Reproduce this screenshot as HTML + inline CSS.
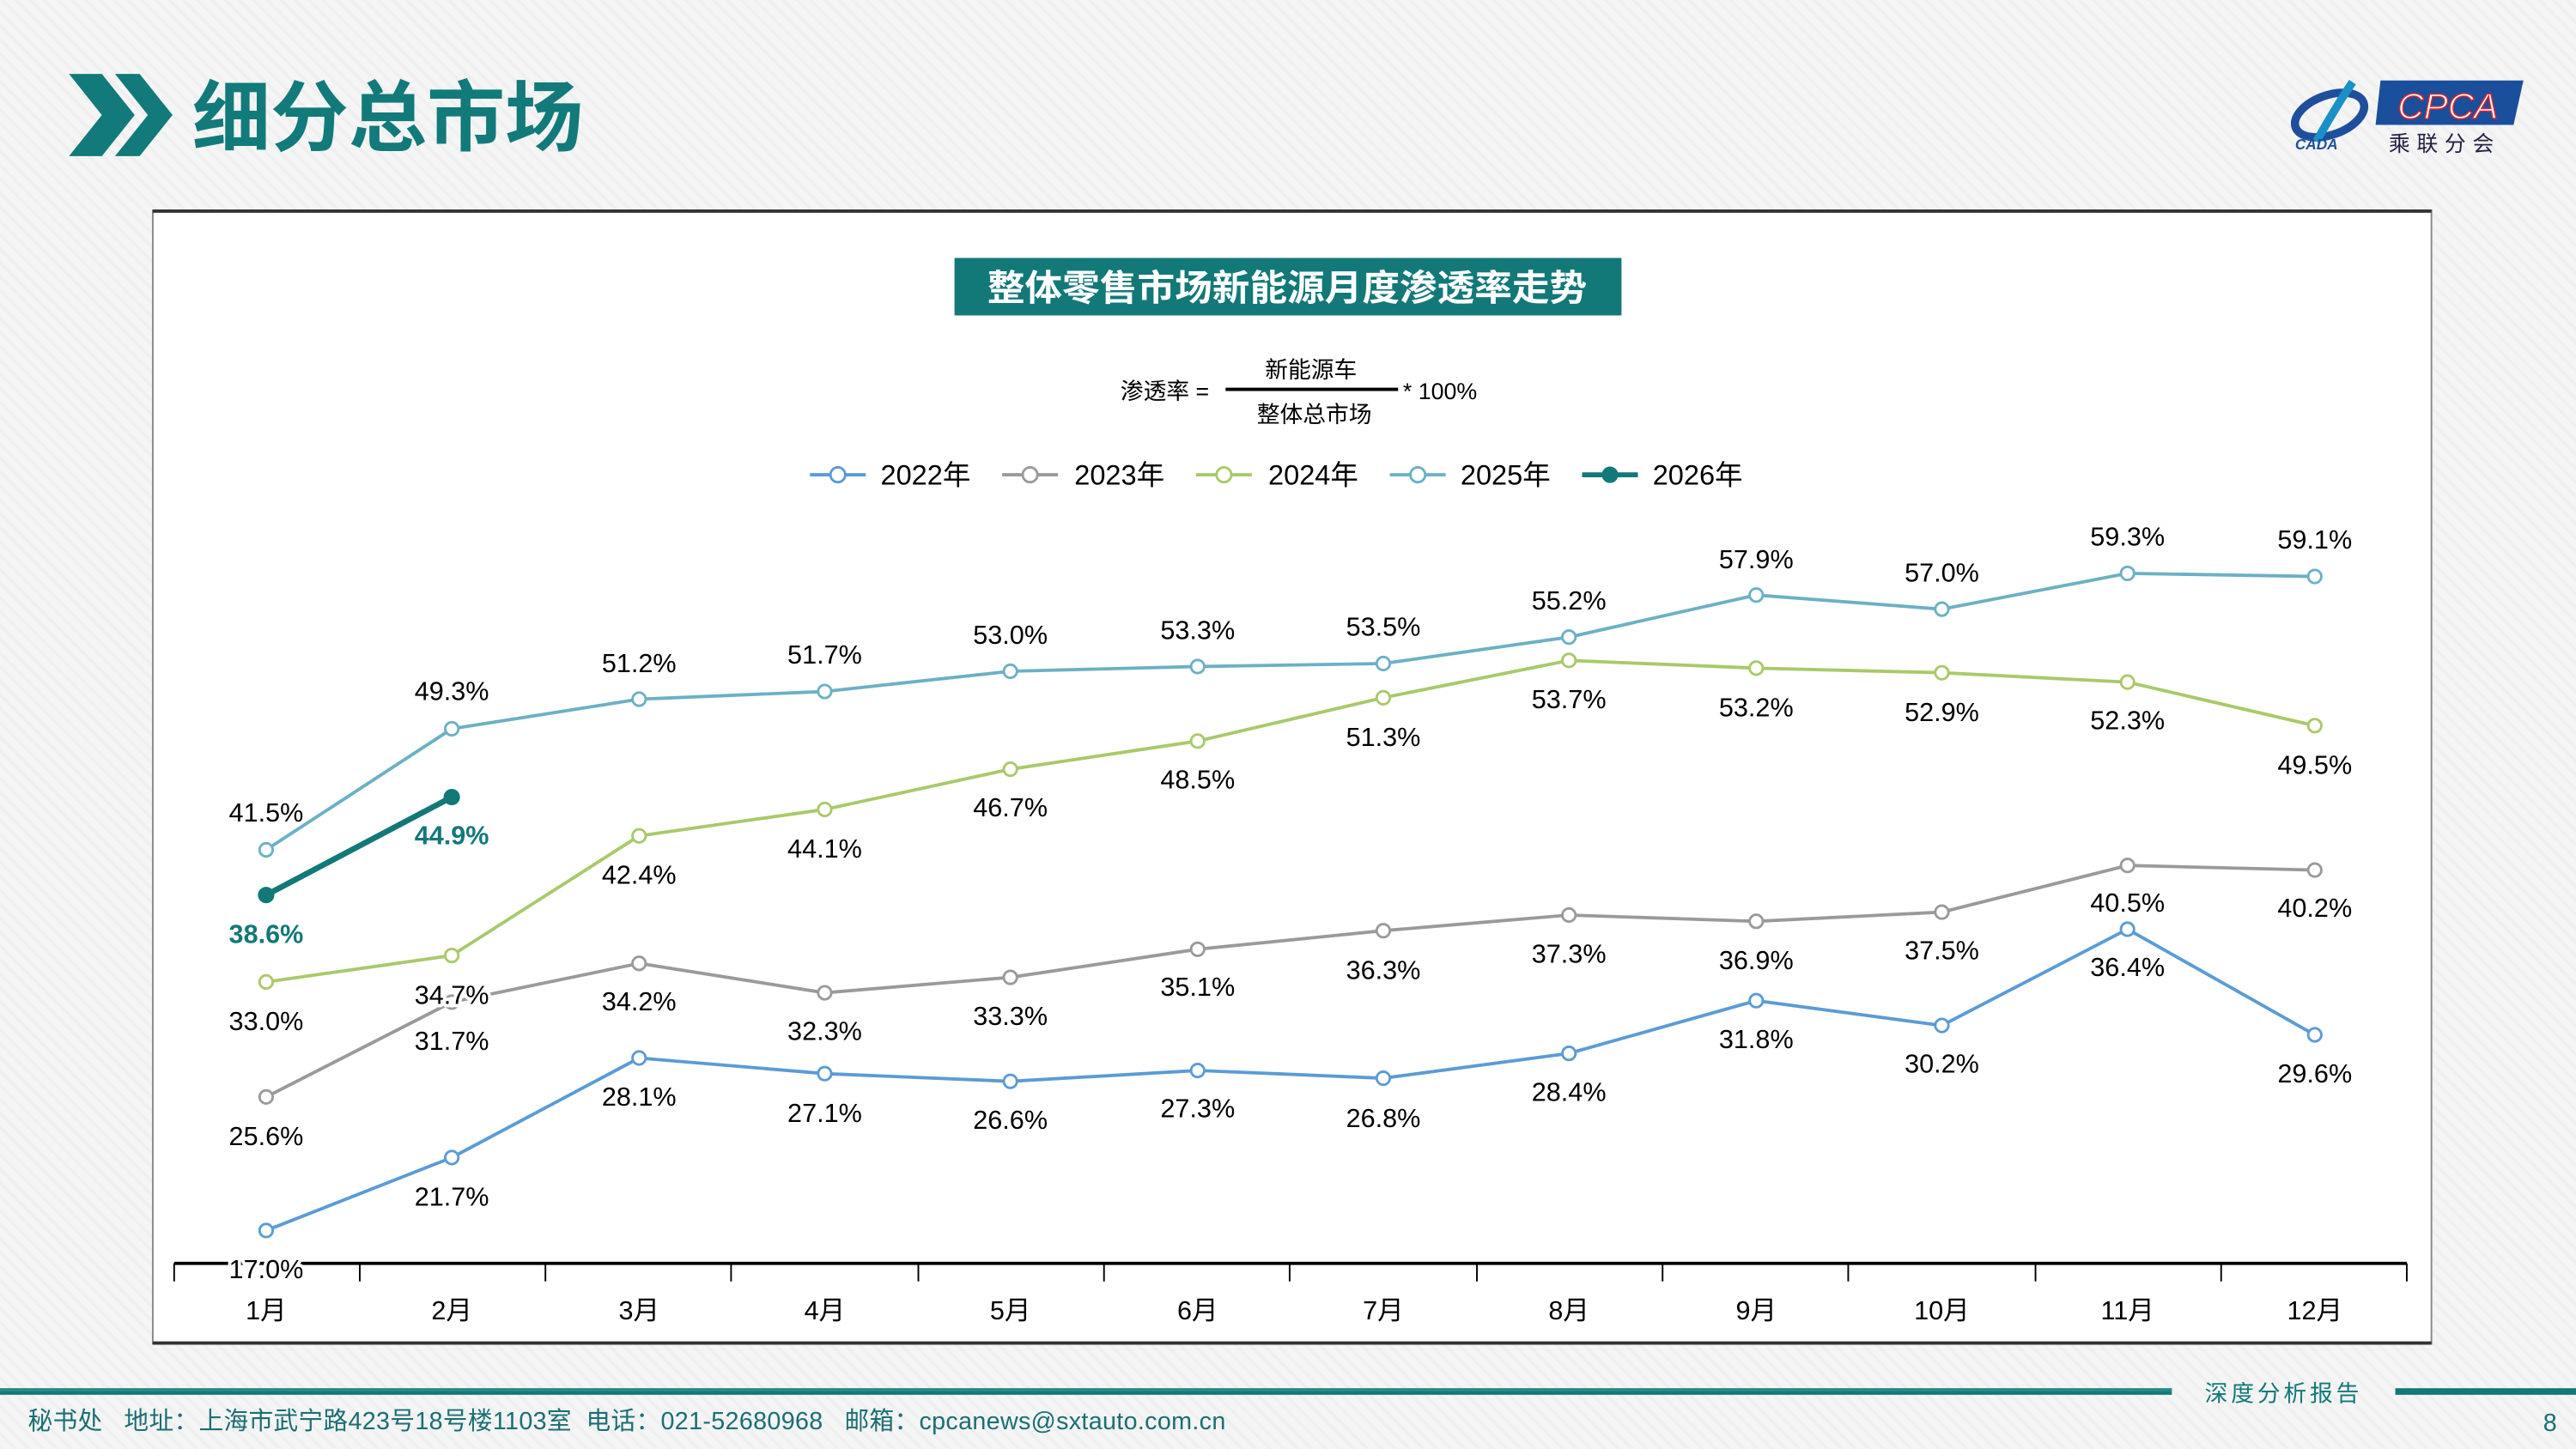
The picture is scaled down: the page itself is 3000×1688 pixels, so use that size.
<!DOCTYPE html>
<html><head><meta charset="utf-8">
<style>
html,body{margin:0;padding:0;width:3000px;height:1688px;overflow:hidden;background:#f4f4f4;}
svg{display:block}
text{font-family:"Liberation Sans","Noto Sans CJK SC",sans-serif;}
</style></head>
<body>
<svg width="3000" height="1688" viewBox="0 0 1568 882" preserveAspectRatio="none" xmlns="http://www.w3.org/2000/svg">
<defs>
<pattern id="dg" width="6" height="6" patternUnits="userSpaceOnUse" patternTransform="rotate(-45)">
<rect width="6" height="6" fill="#f5f5f5"/><rect width="2" height="6" fill="#efefef"/>
</pattern>
</defs>
<rect width="1568" height="882" fill="url(#dg)"/>
<!-- header -->
<polygon points="42,45 62,45 82,70 62,95 42,95 62,70" fill="#127a7a"/>
<polygon points="70,45 85,45 105,70 85,95 70,95 90,70" fill="#127a7a"/>
<text x="117" y="88" font-size="47" font-weight="bold" fill="#127a7a" textLength="238" lengthAdjust="spacingAndGlyphs">细分总市场</text>
<!-- logo -->
<ellipse cx="1418" cy="70" rx="22" ry="12" fill="none" stroke="#1f4f9c" stroke-width="5" transform="rotate(-20 1418 70)"/>
<path d="M1432,50 C1425,60 1418,72 1410,86" stroke="#1a90c8" stroke-width="5" fill="none"/>
<text x="1397" y="91" font-size="9" font-style="italic" font-weight="bold" fill="#1f4f9c">CADA</text>
<polygon points="1449,49 1536,49 1530,76 1446,76" fill="#1a4f9c"/>
<text x="1490" y="72" font-size="22" font-style="italic" fill="#fff" stroke="#d9232e" stroke-width="0.8" text-anchor="middle">CPCA</text>
<text x="1488" y="92" font-size="13" fill="#222244" text-anchor="middle" letter-spacing="4">乘联分会</text>
<!-- chart box -->
<rect x="93" y="128" width="1387" height="690" fill="#fff" stroke="#888" stroke-width="1"/>
<line x1="93" y1="128.5" x2="1480" y2="128.5" stroke="#333" stroke-width="2"/>
<line x1="93" y1="817.5" x2="1480" y2="817.5" stroke="#333" stroke-width="2"/>
<rect x="581" y="157" width="406" height="35" fill="#127878"/>
<text x="601" y="183" font-size="22" font-weight="bold" fill="#fff" textLength="365" lengthAdjust="spacingAndGlyphs">整体零售市场新能源月度渗透率走势</text>
<text x="682" y="243" font-size="14" fill="#000">渗透率 =</text>
<text x="798" y="230" font-size="14" fill="#000" text-anchor="middle">新能源车</text>
<line x1="746" y1="237" x2="851" y2="237" stroke="#000" stroke-width="2"/>
<text x="854" y="243" font-size="14" fill="#000">* 100%</text>
<text x="800" y="257" font-size="14" fill="#000" text-anchor="middle">整体总市场</text>
<!-- legend -->
<g font-size="17" fill="#000">
<line x1="493" y1="289" x2="527" y2="289" stroke="#5b9bd5" stroke-width="2"/><circle cx="510" cy="289" r="4.5" fill="#fff" stroke="#5b9bd5" stroke-width="1.5"/><text x="536" y="295">2022年</text>
<line x1="610" y1="289" x2="644" y2="289" stroke="#9a9a9a" stroke-width="2"/><circle cx="627" cy="289" r="4.5" fill="#fff" stroke="#9a9a9a" stroke-width="1.5"/><text x="654" y="295">2023年</text>
<line x1="728" y1="289" x2="762" y2="289" stroke="#a9c96a" stroke-width="2"/><circle cx="745" cy="289" r="4.5" fill="#fff" stroke="#a9c96a" stroke-width="1.5"/><text x="772" y="295">2024年</text>
<line x1="846" y1="289" x2="880" y2="289" stroke="#6cb0c4" stroke-width="2"/><circle cx="863" cy="289" r="4.5" fill="#fff" stroke="#6cb0c4" stroke-width="1.5"/><text x="889" y="295">2025年</text>
<line x1="963" y1="289" x2="997" y2="289" stroke="#127878" stroke-width="3"/><circle cx="980" cy="289" r="5" fill="#127878"/><text x="1006" y="295">2026年</text>
</g>
<!-- axis -->
<line x1="106" y1="769" x2="1465" y2="769" stroke="#000" stroke-width="2"/>
<g stroke="#000" stroke-width="1">
<line x1="106" y1="769" x2="106" y2="780"/><line x1="219" y1="769" x2="219" y2="780"/><line x1="332" y1="769" x2="332" y2="780"/><line x1="445" y1="769" x2="445" y2="780"/><line x1="559" y1="769" x2="559" y2="780"/><line x1="672" y1="769" x2="672" y2="780"/><line x1="785" y1="769" x2="785" y2="780"/><line x1="899" y1="769" x2="899" y2="780"/><line x1="1012" y1="769" x2="1012" y2="780"/><line x1="1125" y1="769" x2="1125" y2="780"/><line x1="1239" y1="769" x2="1239" y2="780"/><line x1="1352" y1="769" x2="1352" y2="780"/><line x1="1465" y1="769" x2="1465" y2="780"/>
</g>
<g font-size="16" fill="#000" text-anchor="middle">
<text x="162" y="803">1月</text><text x="275" y="803">2月</text><text x="389" y="803">3月</text><text x="502" y="803">4月</text><text x="615" y="803">5月</text><text x="729" y="803">6月</text><text x="842" y="803">7月</text><text x="955" y="803">8月</text><text x="1069" y="803">9月</text><text x="1182" y="803">10月</text><text x="1295" y="803">11月</text><text x="1409" y="803">12月</text>
</g>
<!-- series -->
<g fill="none" stroke-width="2">
<polyline stroke="#5b9bd5" points="162,749 275,704.6 389,644 502,653.5 615,658.2 729,651.6 842,656.3 955,641.2 1069,609.1 1182,624.2 1295,565.6 1409,629.9"/>
<polyline stroke="#9a9a9a" points="162,667.7 275,610 389,586.4 502,604.3 615,594.9 729,577.8 842,566.5 955,557 1069,560.8 1182,555.2 1295,526.8 1409,529.6"/>
<polyline stroke="#a9c96a" points="162,597.7 275,581.6 389,508.8 502,492.7 615,468.2 729,451.1 842,424.7 955,402 1069,406.7 1182,409.5 1295,415.2 1409,441.7"/>
<polyline stroke="#6cb0c4" points="162,517.3 275,443.6 389,425.6 502,420.9 615,408.6 729,405.7 842,403.9 955,387.8 1069,362.2 1182,370.8 1295,349 1409,350.9"/>
<polyline stroke="#127878" stroke-width="3.5" points="162,544.8 275,485.2"/>
</g>
<g fill="#fff" stroke-width="1.5">
<g stroke="#5b9bd5"><circle cx="162" cy="749" r="4"/><circle cx="275" cy="704.6" r="4"/><circle cx="389" cy="644" r="4"/><circle cx="502" cy="653.5" r="4"/><circle cx="615" cy="658.2" r="4"/><circle cx="729" cy="651.6" r="4"/><circle cx="842" cy="656.3" r="4"/><circle cx="955" cy="641.2" r="4"/><circle cx="1069" cy="609.1" r="4"/><circle cx="1182" cy="624.2" r="4"/><circle cx="1295" cy="565.6" r="4"/><circle cx="1409" cy="629.9" r="4"/></g>
<g stroke="#9a9a9a"><circle cx="162" cy="667.7" r="4"/><circle cx="275" cy="610" r="4"/><circle cx="389" cy="586.4" r="4"/><circle cx="502" cy="604.3" r="4"/><circle cx="615" cy="594.9" r="4"/><circle cx="729" cy="577.8" r="4"/><circle cx="842" cy="566.5" r="4"/><circle cx="955" cy="557" r="4"/><circle cx="1069" cy="560.8" r="4"/><circle cx="1182" cy="555.2" r="4"/><circle cx="1295" cy="526.8" r="4"/><circle cx="1409" cy="529.6" r="4"/></g>
<g stroke="#a9c96a"><circle cx="162" cy="597.7" r="4"/><circle cx="275" cy="581.6" r="4"/><circle cx="389" cy="508.8" r="4"/><circle cx="502" cy="492.7" r="4"/><circle cx="615" cy="468.2" r="4"/><circle cx="729" cy="451.1" r="4"/><circle cx="842" cy="424.7" r="4"/><circle cx="955" cy="402" r="4"/><circle cx="1069" cy="406.7" r="4"/><circle cx="1182" cy="409.5" r="4"/><circle cx="1295" cy="415.2" r="4"/><circle cx="1409" cy="441.7" r="4"/></g>
<g stroke="#6cb0c4"><circle cx="162" cy="517.3" r="4"/><circle cx="275" cy="443.6" r="4"/><circle cx="389" cy="425.6" r="4"/><circle cx="502" cy="420.9" r="4"/><circle cx="615" cy="408.6" r="4"/><circle cx="729" cy="405.7" r="4"/><circle cx="842" cy="403.9" r="4"/><circle cx="955" cy="387.8" r="4"/><circle cx="1069" cy="362.2" r="4"/><circle cx="1182" cy="370.8" r="4"/><circle cx="1295" cy="349" r="4"/><circle cx="1409" cy="350.9" r="4"/></g>
</g>
<circle cx="162" cy="544.8" r="5" fill="#127878"/><circle cx="275" cy="485.2" r="5" fill="#127878"/>
<!-- labels -->
<g font-size="16" fill="#000" text-anchor="middle" stroke="#fff" stroke-width="4" paint-order="stroke" stroke-linejoin="round">
<text x="162" y="500">41.5%</text><text x="275" y="426">49.3%</text><text x="389" y="409">51.2%</text><text x="502" y="404">51.7%</text><text x="615" y="392">53.0%</text><text x="729" y="389">53.3%</text><text x="842" y="387">53.5%</text><text x="955" y="371">55.2%</text><text x="1069" y="346">57.9%</text><text x="1182" y="354">57.0%</text><text x="1295" y="332">59.3%</text><text x="1409" y="334">59.1%</text>
<text x="162" y="627">33.0%</text><text x="275" y="611">34.7%</text><text x="389" y="538">42.4%</text><text x="502" y="522">44.1%</text><text x="615" y="497">46.7%</text><text x="729" y="480">48.5%</text><text x="842" y="454">51.3%</text><text x="955" y="431">53.7%</text><text x="1069" y="436">53.2%</text><text x="1182" y="439">52.9%</text><text x="1295" y="444">52.3%</text><text x="1409" y="471">49.5%</text>
<text x="162" y="697">25.6%</text><text x="275" y="639">31.7%</text><text x="389" y="615">34.2%</text><text x="502" y="633">32.3%</text><text x="615" y="624">33.3%</text><text x="729" y="606">35.1%</text><text x="842" y="596">36.3%</text><text x="955" y="586">37.3%</text><text x="1069" y="590">36.9%</text><text x="1182" y="584">37.5%</text><text x="1295" y="555">40.5%</text><text x="1409" y="558">40.2%</text>
<text x="162" y="778">17.0%</text><text x="275" y="734">21.7%</text><text x="389" y="673">28.1%</text><text x="502" y="683">27.1%</text><text x="615" y="687">26.6%</text><text x="729" y="680">27.3%</text><text x="842" y="686">26.8%</text><text x="955" y="670">28.4%</text><text x="1069" y="638">31.8%</text><text x="1182" y="653">30.2%</text><text x="1295" y="594">36.4%</text><text x="1409" y="659">29.6%</text>
<text x="162" y="574" fill="#127878" font-weight="bold">38.6%</text><text x="275" y="514" fill="#127878" font-weight="bold">44.9%</text>
</g>
<!-- footer -->
<rect x="0" y="845" width="1322" height="4" fill="#127878"/>
<rect x="0" y="845" width="1322" height="2" fill="#3d9a9a" opacity="0.5"/>
<rect x="1458" y="845" width="110" height="4" fill="#127878"/>
<text x="1390" y="853" font-size="14" fill="#127878" text-anchor="middle" font-family="'Noto Serif CJK SC',serif" letter-spacing="2">深度分析报告</text>
<text x="17" y="870" font-size="15" fill="#1a6e73" textLength="729" lengthAdjust="spacing" xml:space="preserve">秘书处   地址：上海市武宁路423号18号楼1103室  电话：021-52680968   邮箱：cpcanews@sxtauto.com.cn</text>
<text x="1548" y="871" font-size="15" fill="#1a6e73">8</text>
</svg>
</body></html>
